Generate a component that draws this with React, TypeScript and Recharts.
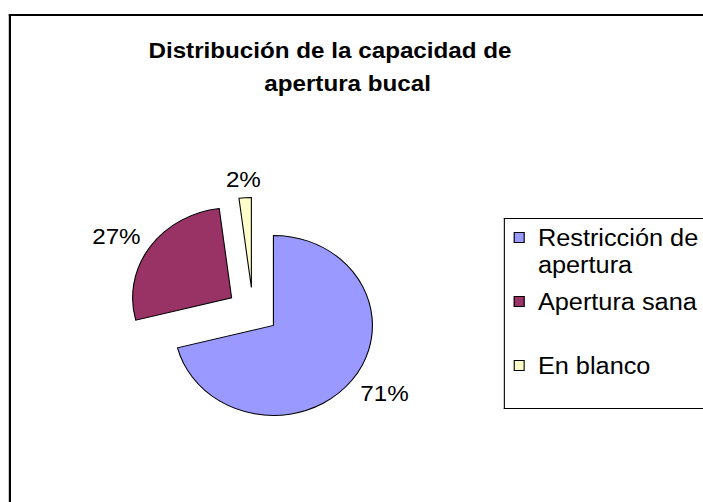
import React from "react";
import { PieChart, Pie, Cell, Sector } from "recharts";

const categories = ["Restricción de apertura", "Apertura sana", "En blanco"];
const legendLines = [["Restricción de", "apertura"], ["Apertura sana"], ["En blanco"]];
const values = [71, 27, 2];
const colors = ["#9999FF", "#993366", "#FFFFCC"];
const titleLines = ["Distribución de la capacidad de", "apertura bucal"];

const data = categories.map((name, i) => ({ name, value: values[i] }));

// the reference is a little wider than it is tall, so everything is drawn
// in a narrower box and stretched back out horizontally
const STRETCH = 1.1;
const W = 703 / STRETCH;
const H = 502;
const FONT = "'Liberation Sans', Arial, Helvetica, sans-serif";
const FONT_SIZE = 22;
const EXPLODE = 23.5;
const RADIAN = Math.PI / 180;

const ExplodedSector = (props: any) => {
  const { cx, cy, midAngle } = props;
  const dx = EXPLODE * Math.cos(-midAngle * RADIAN);
  const dy = EXPLODE * Math.sin(-midAngle * RADIAN);
  return <Sector {...props} cx={cx + dx} cy={cy + dy} stroke="#000" strokeWidth={1} />;
};

// outside-end label: the box edge nearest the slice sits just past the rim
const renderLabel = (props: any) => {
  const { cx, cy, midAngle, outerRadius, percent } = props;
  const cos = Math.cos(-midAngle * RADIAN);
  const sin = Math.sin(-midAngle * RADIAN);
  const text = `${Math.round(percent * 100)}%`;
  const w = ((text.length - 1) * 0.556 + 0.889) * FONT_SIZE;
  const h = 16;
  const m = Math.max(Math.abs(cos), Math.abs(sin));
  const dist = EXPLODE + outerRadius + 10;
  const x = cx + dist * cos + (w / 2) * (cos / m);
  const y = cy + dist * sin + (h / 2) * (sin / m);
  return (
    <text
      x={x}
      y={y}
      textAnchor="middle"
      dominantBaseline="central"
      fontFamily={FONT}
      fontSize={FONT_SIZE}
      fill="#000"
    >
      {text}
    </text>
  );
};

const LegendBox = () => (
  <div
    style={{
      position: "absolute",
      left: 458,
      top: 218,
      width: W - 458 + 4,
      height: 191,
      boxSizing: "border-box",
      borderLeft: "1px solid #000",
      borderTop: "1px solid #000",
      borderBottom: "1px solid #000",
      background: "#fff",
      fontFamily: FONT,
      fontSize: 23,
      color: "#000",
    }}
  >
    {legendLines.map((lines, i) => {
      const center = 19 + i * 64;
      return (
        <React.Fragment key={i}>
          <div
            style={{
              position: "absolute",
              left: 8,
              top: center - 6,
              width: 10,
              height: 11,
              boxSizing: "border-box",
              border: "1px solid #000",
              background: colors[i],
            }}
          />
          <div
            style={{
              position: "absolute",
              left: 30,
              top: center - 13.5,
              lineHeight: "27px",
              whiteSpace: "nowrap",
            }}
          >
            {lines.map((l, j) => (
              <div key={j}>{l}</div>
            ))}
          </div>
        </React.Fragment>
      );
    })}
  </div>
);

export default function App() {
  return (
    <div
      style={{
        position: "absolute",
        left: 0,
        top: 0,
        width: W,
        height: H,
        overflow: "hidden",
        background: "#fff",
        transform: `scaleX(${STRETCH})`,
        transformOrigin: "0 0",
      }}
    >
      <div
        style={{
          position: "absolute",
          left: 8.2,
          top: 14,
          width: W - 8.2 + 4,
          height: H - 14 + 4,
          boxSizing: "border-box",
          borderLeft: "2px solid #000",
          borderTop: "2px solid #000",
        }}
      />
      <div
        style={{
          position: "absolute",
          left: 0,
          top: 33.6,
          width: 600,
          textAlign: "center",
          fontFamily: FONT,
          fontSize: FONT_SIZE,
          fontWeight: "bold",
          lineHeight: "33px",
          color: "#000",
        }}
      >
        <div>{titleLines[0]}</div>
        <div style={{ paddingLeft: 32 }}>{titleLines[1]}</div>
      </div>
      <div style={{ position: "absolute", left: 0, top: 0 }}>
        <PieChart width={W} height={H} margin={{ top: 0, right: 0, bottom: 0, left: 0 }}>
          <Pie
            data={data}
            dataKey="value"
            nameKey="name"
            cx={230}
            cy={311}
            outerRadius={90}
            startAngle={90}
            endAngle={-270}
            shape={ExplodedSector}
            label={renderLabel}
            labelLine={false}
            stroke="#000"
            strokeWidth={1}
            isAnimationActive={false}
          >
            {data.map((d, i) => (
              <Cell key={d.name} fill={colors[i]} />
            ))}
          </Pie>
        </PieChart>
      </div>
      <LegendBox />
    </div>
  );
}
